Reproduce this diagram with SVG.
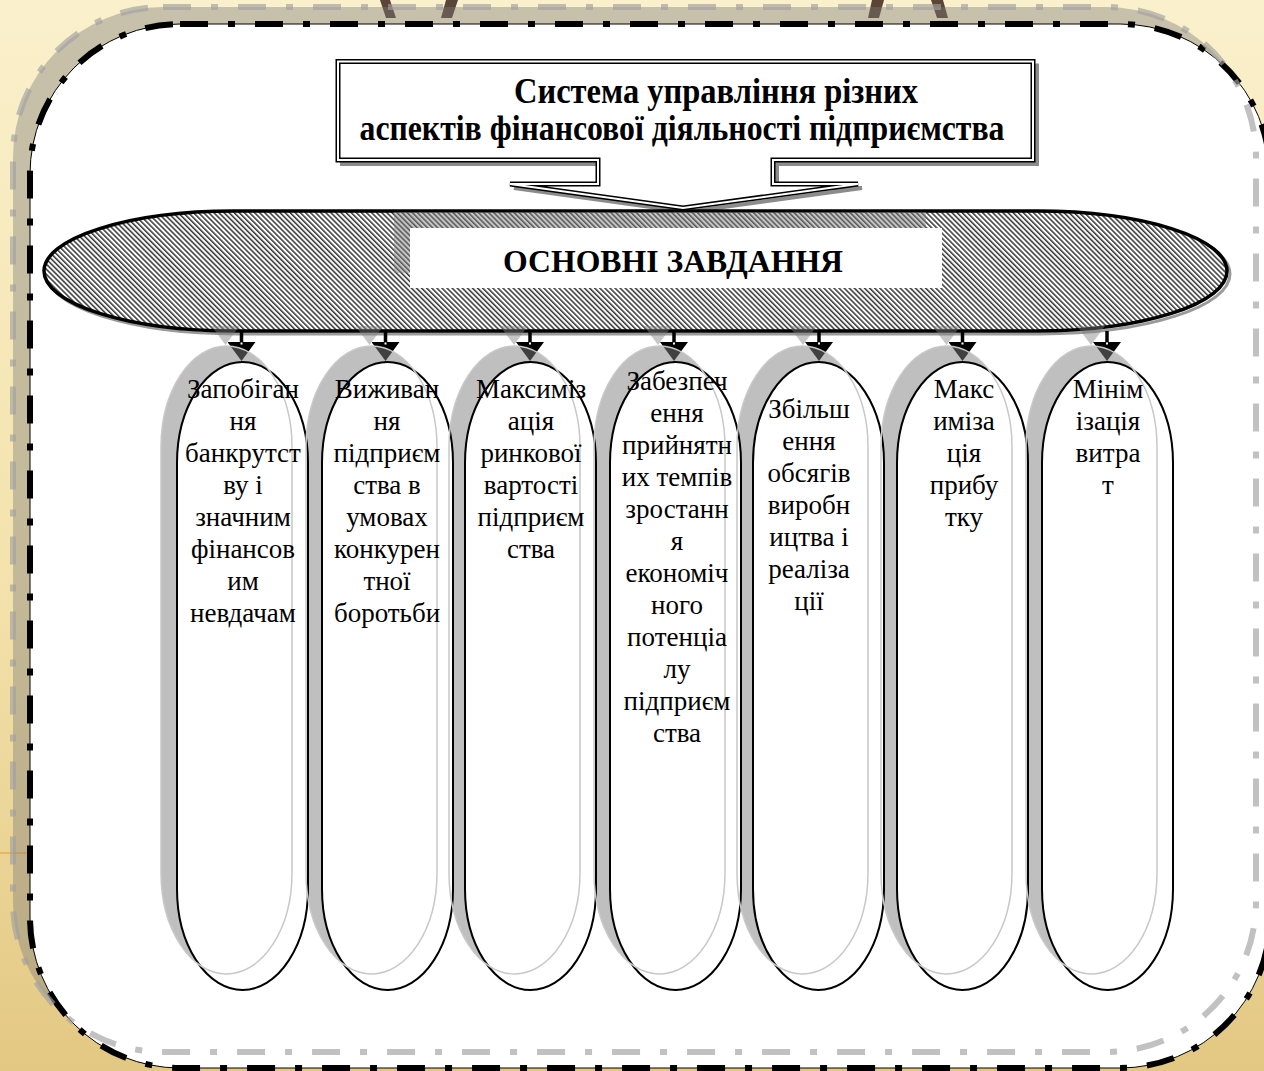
<svg xmlns="http://www.w3.org/2000/svg" width="1264" height="1071" viewBox="0 0 1264 1071">
<defs>
  <linearGradient id="bg" x1="0" y1="0" x2="0" y2="1">
    <stop offset="0" stop-color="#faf0cc"/>
    <stop offset="0.55" stop-color="#f3e2ab"/>
    <stop offset="1" stop-color="#e3c883"/>
  </linearGradient>
  <pattern id="hatch" patternUnits="userSpaceOnUse" width="3.6" height="3.6" patternTransform="rotate(-45)">
    <rect width="3.6" height="3.6" fill="#fff"/>
    <line x1="0.8" y1="0" x2="0.8" y2="3.6" stroke="#000" stroke-width="1.2"/>
  </pattern>
  <marker id="ah" markerUnits="userSpaceOnUse" viewBox="0 0 19 28" refX="0" refY="14" markerWidth="19" markerHeight="28" orient="auto">
    <path d="M0,0 L19,14 L0,28 Z" fill="#000"/>
  </marker>
  <style>
    .cap{fill:#fff;stroke:#000;stroke-width:2}
    .capsh{fill:#808080;fill-opacity:0.5}
    .capshl{fill:none;stroke:#c8c8c8;stroke-width:1.5}
    .t{font-family:"Liberation Serif","Times New Roman",serif;font-size:27px;text-anchor:middle;fill:#000}
    .tb{font-family:"Liberation Serif","Times New Roman",serif;font-weight:bold;text-anchor:middle;fill:#000}
    .stem{stroke:#000;stroke-width:3.5;fill:none}
    .ash{fill:#808080;fill-opacity:0.45}
    .dot{fill:#fff}
  </style>
</defs>

<!-- background -->
<rect x="0" y="0" width="1264" height="1071" fill="url(#bg)"/>
<g fill="#5b4536">
  <polygon points="380,0 390,0 396,18 386,18"/>
  <polygon points="446,0 458,0 452,18 441,18"/>
  <polygon points="872,0 884,0 879,18 868,18"/>
  <polygon points="931,0 943,0 948,18 937,18"/>
</g>
<line x1="0" y1="853" x2="30" y2="853" stroke="#f0a030" stroke-width="1.2"/>

<!-- frame -->
<g id="frame">
  <rect x="13" y="7" width="1243" height="1045" rx="150" ry="150" fill="#7a7a7a" fill-opacity="0.4"/>
  <rect x="30" y="24" width="1240" height="1044" rx="150" ry="150" fill="#fff" stroke="#000" stroke-width="1"/>
  <rect x="30" y="24" width="1240" height="1044" rx="150" ry="150" fill="none" stroke="#000" stroke-width="6" stroke-dasharray="28 20 7 20"/>
  <rect x="13" y="7" width="1243" height="1045" rx="150" ry="150" fill="none" stroke="#a0a0a0" stroke-opacity="0.65" stroke-width="6" stroke-dasharray="28 20 7 20"/>
</g>

<!-- title callout -->
<g id="title">
  <path d="M338,61.5 H1033 V160 H773 V184 H858 L683,208 L510,184 H598 V160 H338 Z" transform="translate(4,4)" fill="none" stroke="#8c8c8c" stroke-width="4" stroke-linejoin="miter" stroke-miterlimit="4"/>
  <path d="M338,61.5 H1033 V160 H773 V184 H858 L683,208 L510,184 H598 V160 H338 Z" fill="#fff" stroke="#000" stroke-width="5" stroke-linejoin="miter" stroke-miterlimit="4"/>
  <path d="M338,61.5 H1033 V160 H773 V184 H858 L683,208 L510,184 H598 V160 H338 Z" fill="none" stroke="#fff" stroke-width="2" stroke-linejoin="miter" stroke-miterlimit="4"/>
  <text class="tb" font-size="35" x="716" y="103" textLength="404" lengthAdjust="spacingAndGlyphs">Система управління різних</text>
  <text class="tb" font-size="35" x="682" y="140" textLength="645" lengthAdjust="spacingAndGlyphs">аспектів фінансової діяльності підприємства</text>
</g>

<!-- main tasks ellipse -->
<g id="tasks">
  <rect x="47" y="214" width="1183" height="120" rx="190" ry="60" fill="none" stroke="#9a9a9a" stroke-width="3"/>
  <rect x="44" y="211" width="1183" height="120" rx="190" ry="60" fill="url(#hatch)" stroke="#000" stroke-width="3.5"/>
  <rect x="394" y="212" width="532" height="61" fill="#808080" fill-opacity="0.45"/>
  <rect x="410" y="228" width="532" height="60" fill="#fff"/>
  <text class="tb" font-size="32" x="673" y="272" textLength="340" lengthAdjust="spacingAndGlyphs">ОСНОВНІ ЗАВДАННЯ</text>
</g>

<!-- connectors -->
<g id="connectors">
  <g class="ash">
    <polygon points="211.5,326 239.5,326 225.5,345"/>
    <polygon points="355.5,326 383.5,326 369.5,345"/>
    <polygon points="500,326 528,326 514,345"/>
    <polygon points="644,326 672,326 658,345"/>
    <polygon points="789,326 817,326 803,345"/>
    <polygon points="932.5,326 960.5,326 946.5,345"/>
    <polygon points="1077,326 1105,326 1091,345"/>
  </g>
  <line class="stem" x1="241.5" y1="331" x2="241.5" y2="342" marker-end="url(#ah)"/>
  <line class="stem" x1="385.5" y1="331" x2="385.5" y2="342" marker-end="url(#ah)"/>
  <line class="stem" x1="530" y1="331" x2="530" y2="342" marker-end="url(#ah)"/>
  <line class="stem" x1="674" y1="331" x2="674" y2="342" marker-end="url(#ah)"/>
  <line class="stem" x1="819" y1="331" x2="819" y2="342" marker-end="url(#ah)"/>
  <line class="stem" x1="962.5" y1="331" x2="962.5" y2="342" marker-end="url(#ah)"/>
  <line class="stem" x1="1107" y1="331" x2="1107" y2="342" marker-end="url(#ah)"/>
  <g class="dot">
    <rect x="240.5" y="342.5" width="2" height="2"/>
    <rect x="384.5" y="342.5" width="2" height="2"/>
    <rect x="529" y="342.5" width="2" height="2"/>
    <rect x="673" y="342.5" width="2" height="2"/>
    <rect x="818" y="342.5" width="2" height="2"/>
    <rect x="961.5" y="342.5" width="2" height="2"/>
    <rect x="1106" y="342.5" width="2" height="2"/>
  </g>
</g>

<!-- capsule shadows -->
<g id="capsule-shadows" class="capsh">
  <rect x="161" y="346" width="131" height="628" rx="65.5" ry="101"/>
  <rect x="306" y="346" width="131" height="628" rx="65.5" ry="101"/>
  <rect x="449" y="346" width="131" height="628" rx="65.5" ry="101"/>
  <rect x="594" y="346" width="131" height="628" rx="65.5" ry="101"/>
  <rect x="737" y="346" width="131" height="628" rx="65.5" ry="101"/>
  <rect x="881" y="346" width="131" height="628" rx="65.5" ry="101"/>
  <rect x="1026" y="346" width="131" height="628" rx="65.5" ry="101"/>
</g>

<g id="task1">
  <rect class="cap" x="177" y="362" width="131" height="628" rx="65.5" ry="101"/>
  <rect class="capshl" x="161" y="346" width="131" height="628" rx="65.5" ry="101"/>
  <text class="t"><tspan x="243" y="398">Запобіган</tspan><tspan x="243" y="430">ня</tspan><tspan x="243" y="462">банкрутст</tspan><tspan x="243" y="494">ву і</tspan><tspan x="243" y="526">значним</tspan><tspan x="243" y="558">фінансов</tspan><tspan x="243" y="590">им</tspan><tspan x="243" y="622">невдачам</tspan></text>
</g>
<g id="task2">
  <rect class="cap" x="322" y="362" width="131" height="628" rx="65.5" ry="101"/>
  <rect class="capshl" x="306" y="346" width="131" height="628" rx="65.5" ry="101"/>
  <text class="t"><tspan x="387" y="398">Виживан</tspan><tspan x="387" y="430">ня</tspan><tspan x="387" y="462">підприєм</tspan><tspan x="387" y="494">ства в</tspan><tspan x="387" y="526">умовах</tspan><tspan x="387" y="558">конкурен</tspan><tspan x="387" y="590">тної</tspan><tspan x="387" y="622">боротьби</tspan></text>
</g>
<g id="task3">
  <rect class="cap" x="465" y="362" width="131" height="628" rx="65.5" ry="101"/>
  <rect class="capshl" x="449" y="346" width="131" height="628" rx="65.5" ry="101"/>
  <text class="t"><tspan x="531" y="398">Максиміз</tspan><tspan x="531" y="430">ація</tspan><tspan x="531" y="462">ринкової</tspan><tspan x="531" y="494">вартості</tspan><tspan x="531" y="526">підприєм</tspan><tspan x="531" y="558">ства</tspan></text>
</g>
<g id="task4">
  <rect class="cap" x="610" y="362" width="131" height="628" rx="65.5" ry="101"/>
  <rect class="capshl" x="594" y="346" width="131" height="628" rx="65.5" ry="101"/>
  <text class="t"><tspan x="677" y="390">Забезпеч</tspan><tspan x="677" y="422">ення</tspan><tspan x="677" y="454">прийнятн</tspan><tspan x="677" y="486">их темпів</tspan><tspan x="677" y="518">зростанн</tspan><tspan x="677" y="550">я</tspan><tspan x="677" y="582">економіч</tspan><tspan x="677" y="614">ного</tspan><tspan x="677" y="646">потенціа</tspan><tspan x="677" y="678">лу</tspan><tspan x="677" y="710">підприєм</tspan><tspan x="677" y="742">ства</tspan></text>
</g>
<g id="task5">
  <rect class="cap" x="753" y="362" width="131" height="628" rx="65.5" ry="101"/>
  <rect class="capshl" x="737" y="346" width="131" height="628" rx="65.5" ry="101"/>
  <text class="t"><tspan x="809" y="418">Збільш</tspan><tspan x="809" y="450">ення</tspan><tspan x="809" y="482">обсягів</tspan><tspan x="809" y="514">виробн</tspan><tspan x="809" y="546">ицтва і</tspan><tspan x="809" y="578">реаліза</tspan><tspan x="809" y="610">ції</tspan></text>
</g>
<g id="task6">
  <rect class="cap" x="897" y="362" width="131" height="628" rx="65.5" ry="101"/>
  <rect class="capshl" x="881" y="346" width="131" height="628" rx="65.5" ry="101"/>
  <text class="t"><tspan x="964" y="398">Макс</tspan><tspan x="964" y="430">иміза</tspan><tspan x="964" y="462">ція</tspan><tspan x="964" y="494">прибу</tspan><tspan x="964" y="526">тку</tspan></text>
</g>
<g id="task7">
  <rect class="cap" x="1042" y="362" width="131" height="628" rx="65.5" ry="101"/>
  <rect class="capshl" x="1026" y="346" width="131" height="628" rx="65.5" ry="101"/>
  <text class="t"><tspan x="1108" y="398">Мінім</tspan><tspan x="1108" y="430">ізація</tspan><tspan x="1108" y="462">витра</tspan><tspan x="1108" y="494">т</tspan></text>
</g>
</svg>
